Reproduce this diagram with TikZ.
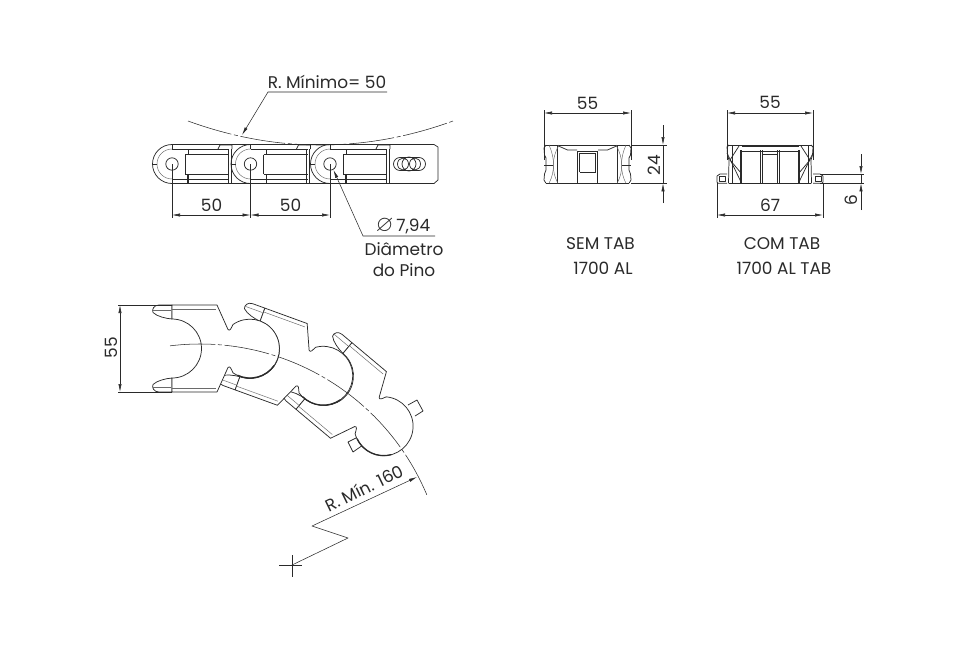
\documentclass[tikz,border=0pt]{standalone}
\usepackage{amssymb}
\usepackage{fontspec}
\setmainfont{Poppins}
\usetikzlibrary{arrows.meta, calc}

\definecolor{inkline}{HTML}{2A2A2A}

\begin{document}
\begin{tikzpicture}[x=0.75pt, y=-0.75pt, line join=round]
    % Line styles
    \tikzstyle{part} = [draw=inkline, line width=0.55pt]
    \tikzstyle{thin part} = [draw=inkline!70, line width=0.35pt]
    \tikzstyle{heavy part} = [draw=inkline, line width=0.95pt]
    \tikzstyle{dimline} = [draw=inkline, line width=0.4pt, arrows={Latex[length=6pt,width=2.4pt]-Latex[length=6pt,width=2.4pt]}]
    \tikzstyle{leader} = [draw=inkline, line width=0.4pt, -{Latex[length=6pt,width=2.4pt]}]
    \tikzstyle{extline} = [draw=inkline, line width=0.35pt]
    \tikzstyle{centerline} = [draw=inkline, line width=0.4pt, dash pattern=on 34pt off 2pt on 3pt off 2pt]
    \tikzstyle{label} = [text=inkline, font=\fontsize{12.7pt}{14pt}\selectfont, inner sep=0pt]

    \useasboundingbox (0,0) rectangle (960,644);
    \fill[white] (0,0) rectangle (960,644);

    % Top view: three links
    \foreach \pinx in {172,250.5,330} {
        \begin{scope}[shift={(\pinx,164)}]
            \draw[part] (0,-19.5) -- (78.5,-19.5) (0,19.5) -- (78.5,19.5);
            \draw[part] (0,-19.5) arc[start angle=-90, end angle=-270, radius=19.5];
            \draw[thin part] (0,-15) arc[start angle=-90, end angle=-270, radius=15];
            \draw[part] (0,-15) -- (57,-15) (13,-9.5) -- (57,-9.5) (13,10) -- (57,10) (0,15) -- (57,15);
            \draw[part] (13,-9.5) -- (13,10) (16,-15) -- (16,-9.5);
            \draw[heavy part] (16,10) -- (16,19.5);
            \draw[part] (0,-19.5) -- (0,-15) (0,15) -- (0,19.5) (-19.5,0) -- (-15,0);
            \draw[part] (56,-15) -- (56,19.5) (59,-15) -- (59,19.5);
            \draw[part] (46,-15) -- (48,-19) -- (60,-19) -- (60,-15);
            \draw[part] (0,0) circle[radius=6.2];
        \end{scope}
    }
    % Plain end of the last link
    \draw[part] (408,144.5) -- (434,144.5) -- (438,147) -- (438,180) -- (434,183.5) -- (408,183.5);
    \draw[part] (400,157.5) -- (419,157.5) arc[start angle=-90, end angle=90, radius=6.5] -- (400,170.5) arc[start angle=90, end angle=270, radius=6.5];
    \draw[part] (409,164) circle[radius=7] (403,164) ellipse[x radius=5.5, y radius=6] (415,164) ellipse[x radius=5.5, y radius=6];

    % Top view: minimum radius and its labels
    \draw[centerline] (188,121) .. controls (232,137) and (276,145) .. (320,145) .. controls (365,145) and (409,137) .. (453,121);
    \node[label] (rmin) at (327,82) {R. Mínimo= 50};
    \coordinate (rmin_end) at (387,92);
    \coordinate (rmin_knee) at (268,92);
    \coordinate (rmin_tip) at (242,135);
    \draw[leader] (rmin_end) -- (rmin_knee) -- (rmin_tip);

    % Top view: pitch dimensions
    \foreach \pinx in {172,250.5,330} {
        \draw[extline] (\pinx,164) -- (\pinx,218);
    }
    \draw[dimline] (172,215) -- (250.5,215);
    \draw[dimline] (250.5,215) -- (330,215);
    \node[label] (pitch_a) at (211.5,205) {50};
    \node[label] (pitch_b) at (290.5,205) {50};

    % Top view: pin diameter
    \node[label] (pin_dia) at (403,226) {{\fontsize{17pt}{17pt}\selectfont$\varnothing$}\,7,94};
    \node[label] (pin_text_a) at (404,249) {Diâmetro};
    \node[label] (pin_text_b) at (404,270) {do Pino};
    \coordinate (pin_end) at (435,236);
    \coordinate (pin_knee) at (363,236);
    \coordinate (pin_tip) at (333.5,170);
    \draw[leader] (pin_end) -- (pin_knee) -- (pin_tip);

    % Front view without tab
    \draw[part] (546,145) -- (629,145) (546,183.3) -- (629,183.3);
    \foreach \sgn in {1,-1} {
        \begin{scope}[shift={(587.5,0)}, xscale=\sgn]
            \draw[part] (41.5,145) -- (43.5,148) -- (43,155) -- (41.5,158) -- (41.5,170) -- (43,174) -- (43.5,180) -- (41.5,183.3);
            \draw[heavy part] (30,146) -- (30,183.3);
            \draw[thin part] (28.5,145) .. controls (36,158) and (36,172) .. (29.5,183.3);
            \draw[thin part] (38.5,145) .. controls (32.5,158) and (32.5,172) .. (38.5,183.3);
            \draw[part] (34.5,165) -- (43.5,165);
            \draw[part] (29,146) -- (20,150) -- (10.5,150);
            \draw[heavy part] (10,151) -- (10,183.3);
            \draw[part] (8,153) -- (8,172);
        \end{scope}
    }
    \draw[part] (577.5,151) -- (597.5,151) (579.5,153) -- (595.5,153) (579.5,172) -- (595.5,172);
    \draw[dimline] (544,113) -- (631,113);
    \draw[extline] (544,110) -- (544,160) (631,110) -- (631,160);
    \node[label] (front_width) at (587.5,103) {55};
    \draw[extline] (631,145) -- (667,145) (631,183.3) -- (667,183.3);
    \draw[leader] (663,125) -- (663,145);
    \draw[extline] (663,145) -- (663,183.3);
    \draw[leader] (663,203) -- (663,183.3);
    \node[label, rotate=90] (front_height) at (654,165) {24};
    \node[label] (sem_a) at (600.5,244) {SEM TAB};
    \node[label] (sem_b) at (603,268) {1700 AL};

    % Front view with tab
    \draw[part] (729,145) -- (811,145);
    \draw[heavy part] (742,146.5) -- (799,146.5);
    \draw[heavy part] (729,183.3) -- (811,183.3);
    \foreach \sgn in {1,-1} {
        \begin{scope}[shift={(770,0)}, xscale=\sgn]
            \draw[part] (41,145) -- (43,147) -- (42.5,155) -- (41,160) -- (41.5,183.3);
            \draw[heavy part] (29,150) -- (29,183.3);
            \draw[heavy part] (9.5,150) -- (9.5,183.3);
            \draw[part] (7.5,150) -- (7.5,183.3);
            \draw[part] (31,146) -- (40,160) -- (29,173);
            \draw[part] (43,153) -- (29,182);
            \draw[part] (38,145) -- (38,183.3);
            \draw[part] (43,174) -- (50,174) -- (53,176) -- (53,182) -- (52,183.3) -- (43,183.3);
            \draw[part] (45,176) rectangle (51,181.5);
        \end{scope}
    }
    \draw[part] (742,151) -- (799,151) (762,154) -- (778,154);
    \draw[dimline] (727,113) -- (813,113);
    \draw[extline] (727,110) -- (727,160) (813,110) -- (813,160);
    \node[label] (tab_width) at (770,102) {55};
    \draw[dimline] (717,215) -- (823,215);
    \draw[extline] (717,183.3) -- (717,218) (823,183.3) -- (823,218);
    \node[label] (tab_total) at (770,205) {67};
    \draw[extline] (820,174) -- (864,174) (820,183.3) -- (864,183.3);
    \draw[leader] (861,154) -- (861,174);
    \draw[extline] (861,174) -- (861,183.3);
    \draw[leader] (861,210) -- (861,183.3);
    \node[label, rotate=90] (tab_height) at (851,200) {6};
    \node[label] (com_a) at (782,244) {COM TAB};
    \node[label] (com_b) at (784,268) {1700 AL TAB};

    % Curved chain: tabs of the last ball
    \draw[part] (408,405) -- (417,400) -- (423,411) -- (415,416);
    \draw[part] (348,442) -- (358,437) -- (363,445) -- (353,452) -- cycle;

    % Curved chain: links, last one first
    \foreach \linkx/\linky/\linkrot in {324/376/-40, 250/349/-20, 172/348.5/0} {
        \begin{scope}[shift={(\linkx,\linky)}, rotate=\linkrot]
            % Tines
            \draw[part, fill=white] (0,-29.5) -- (0,-43.5) -- (-13,-43.5) .. controls (-18,-43.5) and (-20.5,-39) .. (-19,-36) .. controls (-15,-32) and (-6,-30) .. (0,-29.5);
            \draw[part, fill=white] (0,29.5) -- (0,43.5) -- (-13,43.5) .. controls (-18,43.5) and (-20.5,39) .. (-19,36) .. controls (-15,32) and (-6,30) .. (0,29.5);
            % Body with its ball
            \filldraw[part, fill=white] (0,-29.5) -- (0,-43.5) -- (45,-43.5) -- (56,-19) .. controls (58,-17) and (59,-20) .. (61,-24) arc[start angle=-125, end angle=125, radius=29.5] .. controls (59,20) and (58,17) .. (56,19) -- (45,43.5) -- (0,43.5) -- (0,29.5) arc[start angle=90, end angle=-90, radius=29.5];
            \draw[thin part] (0,-39.5) -- (44,-39.5) (0,39.5) -- (44,39.5);
            \draw[heavy part] ([shift={(78,0)}]35:29.5) arc[start angle=35, end angle=115, radius=29.5];
            \draw[thin part] (-19,38.5) -- (-1,38.5) (-19,-38.5) -- (-1,-38.5);
        \end{scope}
    }

    % Curved chain: dimension and radius
    \draw[extline] (118,305) -- (172,305) (118,392) -- (172,392);
    \draw[dimline] (120,305) -- (120,392);
    \node[label, rotate=90] (chain_width) at (111,347.5) {55};
    \draw[centerline] ([shift={(200,590)}]-97:246) arc[start angle=-97, end angle=-22.3, radius=246];
    \coordinate (cross) at (292,565);
    \draw[extline] (279,565) -- (302,565) (292,555) -- (292,577);
    \coordinate (jog_a) at (348,538);
    \coordinate (jog_b) at (312,526);
    \coordinate (jog_tip) at (417,477);
    \draw[leader] (cross) -- (jog_a) -- (jog_b) -- (jog_tip);
    \node[label, rotate=26] (chain_radius) at (364,488) {R. Mín. 160};
\end{tikzpicture}
\end{document}
